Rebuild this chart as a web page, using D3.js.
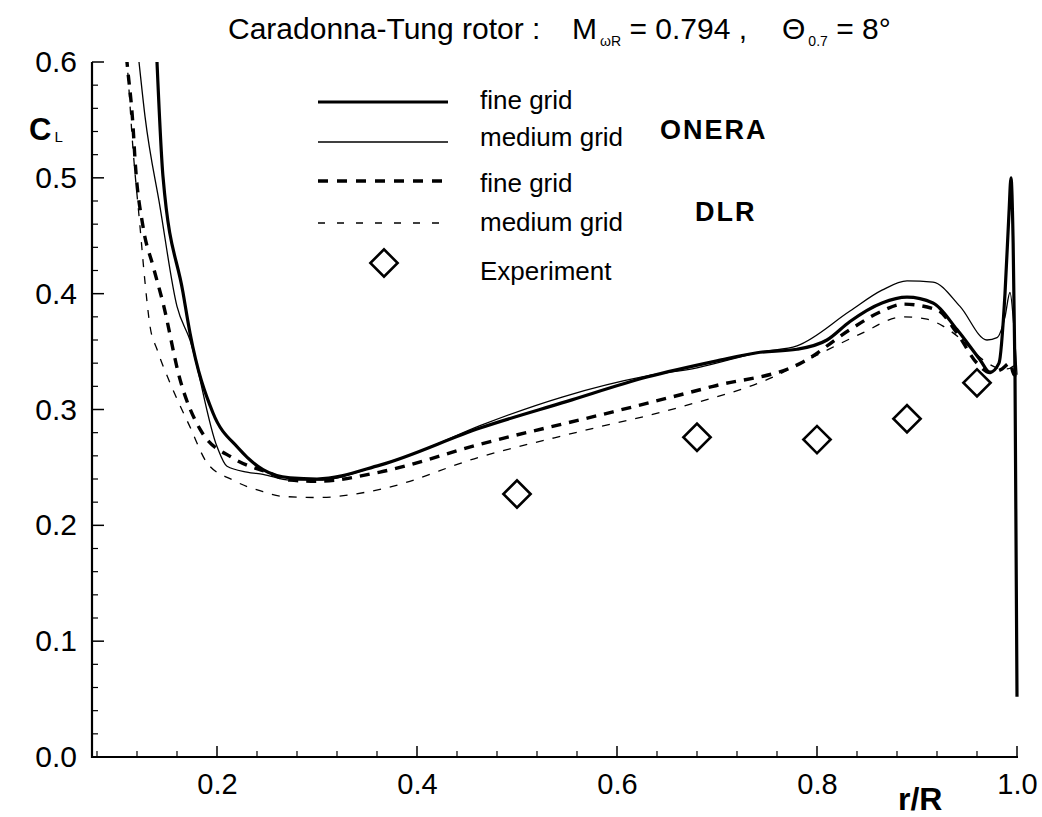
<!DOCTYPE html>
<html><head><meta charset="utf-8">
<script src="https://cdn.jsdelivr.net/npm/d3@7"></script>
<style>body{margin:0;background:#fff}svg{display:block}text{font-family:"Liberation Sans",Arial,sans-serif;fill:#000}</style>
</head><body><svg id="c" width="1042" height="817"></svg>
<script>
// ---- data ----
const xTicks = [0.2, 0.4, 0.6, 0.8, 1.0];
const xTickLabels = ["0.2", "0.4", "0.6", "0.8", "1.0"];
const yTicks = [0.0, 0.1, 0.2, 0.3, 0.4, 0.5, 0.6];
const yTickLabels = ["0.0", "0.1", "0.2", "0.3", "0.4", "0.5", "0.6"];

const rOneraFine  = [0.139,0.140,0.146,0.166,0.173,0.196,0.221,0.246,0.273,0.300,0.363,0.463,0.550,0.630,0.700,0.740,0.780,0.810,0.833,0.865,0.890,0.916,0.940,0.963,0.973,0.982,0.988,0.992,0.994,0.996,0.998,1.000];
const clOneraFine = [0.620,0.600,0.501,0.401,0.366,0.297,0.267,0.248,0.241,0.240,0.252,0.284,0.307,0.328,0.342,0.349,0.352,0.360,0.376,0.392,0.397,0.392,0.369,0.343,0.332,0.340,0.400,0.470,0.500,0.450,0.330,0.052];

const rOneraMed  = [0.1195,0.122,0.128,0.143,0.160,0.173,0.200,0.210,0.230,0.246,0.273,0.300,0.363,0.400,0.463,0.546,0.630,0.680,0.746,0.780,0.833,0.865,0.890,0.916,0.943,0.970,0.980,0.988,0.993,0.997,1.000];
const clOneraMed = [0.620,0.600,0.553,0.475,0.389,0.360,0.268,0.251,0.246,0.244,0.239,0.239,0.252,0.263,0.286,0.311,0.329,0.336,0.350,0.355,0.385,0.403,0.411,0.410,0.389,0.360,0.362,0.380,0.401,0.370,0.330];

const rDlrFine  = [0.108,0.110,0.116,0.118,0.126,0.136,0.146,0.163,0.183,0.216,0.250,0.273,0.300,0.363,0.463,0.596,0.696,0.786,0.833,0.865,0.886,0.920,0.940,0.960,0.973,0.985,0.993,0.997,1.000];
const clDlrFine = [0.620,0.600,0.545,0.516,0.458,0.424,0.392,0.326,0.283,0.258,0.246,0.239,0.238,0.246,0.270,0.298,0.320,0.341,0.369,0.385,0.391,0.386,0.366,0.340,0.332,0.335,0.340,0.330,0.330];

const rDlrMed  = [0.108,0.110,0.116,0.123,0.128,0.133,0.140,0.153,0.173,0.190,0.216,0.246,0.266,0.300,0.363,0.463,0.563,0.663,0.756,0.800,0.843,0.886,0.910,0.926,0.945,0.966,0.980,0.990,1.000];
const clDlrMed = [0.620,0.600,0.525,0.458,0.410,0.372,0.352,0.323,0.285,0.254,0.239,0.229,0.225,0.224,0.231,0.259,0.281,0.302,0.328,0.347,0.365,0.380,0.378,0.372,0.360,0.343,0.336,0.335,0.340];

const rExp  = [0.50, 0.68, 0.80, 0.89, 0.96];
const clExp = [0.227, 0.276, 0.274, 0.292, 0.323];

// ---- chart ----
const svg = d3.select("#c");
const x = d3.scaleLinear().domain([0.075, 1.0]).range([92, 1017]);
const y = d3.scaleLinear().domain([0, 0.6]).range([757, 62]);

svg.append("defs").append("clipPath").attr("id","clip")
  .append("rect").attr("x",92).attr("y",62).attr("width",940).attr("height",700);

const series = [
  {r: rOneraFine, c: clOneraFine, w: 3.2, dash: null},
  {r: rOneraMed,  c: clOneraMed,  w: 1.3, dash: null},
  {r: rDlrFine,   c: clDlrFine,   w: 3.4, dash: "10,8"},
  {r: rDlrMed,    c: clDlrMed,    w: 1.3, dash: "8,9"}
];
const line = d3.line().x(d => x(d[0])).y(d => y(d[1])).curve(d3.curveMonotoneX);
const g = svg.append("g").attr("clip-path","url(#clip)");
series.forEach(s => {
  g.append("path").datum(s.r.map((v,i) => [v, s.c[i]]))
    .attr("d", line).attr("fill","none").attr("stroke","#000")
    .attr("stroke-width", s.w).attr("stroke-dasharray", s.dash)
    .attr("stroke-linejoin","round");
});

const diamond = d3.symbol().type(d3.symbolSquare).size(370);
svg.append("g").selectAll("path").data(rExp.map((v,i)=>[v, clExp[i]])).join("path")
  .attr("d", diamond).attr("transform", d => `translate(${x(d[0])},${y(d[1])}) rotate(45)`)
  .attr("fill","#fff").attr("stroke","#000").attr("stroke-width",2.6);

// axes
const xAxis = d3.axisBottom(x).tickValues(xTicks).tickFormat((d,i)=>xTickLabels[i]).tickSize(0).tickPadding(16);
const xg = svg.append("g").attr("transform","translate(0,757)").call(xAxis);
xg.select(".domain").remove();
xg.selectAll("text").attr("font-size",29).attr("font-family","Liberation Sans, Arial, sans-serif").attr("fill","#000");
const yAxis = d3.axisLeft(y).tickValues(yTicks).tickFormat((d,i)=>yTickLabels[i]).tickSize(0).tickPadding(15);
const yg = svg.append("g").attr("transform","translate(92,0)").call(yAxis);
yg.select(".domain").remove();
yg.selectAll("text").attr("font-size",30).attr("font-family","Liberation Sans, Arial, sans-serif").attr("fill","#000");

// inward ticks
const xMinor = d3.range(0.08, 1.0001, 0.04).filter(v => Math.abs(v*5 - Math.round(v*5)) > 1e-6);
svg.append("g").selectAll("line").data(xMinor).join("line")
  .attr("x1", d=>x(d)).attr("x2", d=>x(d)).attr("y1",757).attr("y2",751).attr("stroke","#000").attr("stroke-width",1.2);
svg.append("g").selectAll("line").data(xTicks).join("line")
  .attr("x1", d=>x(d)).attr("x2", d=>x(d)).attr("y1",757).attr("y2",746).attr("stroke","#000").attr("stroke-width",1.5);
const yMinor = d3.range(0.02, 0.6, 0.02).filter(v => Math.abs(v*10 - Math.round(v*10)) > 1e-6);
svg.append("g").selectAll("line").data(yMinor).join("line")
  .attr("x1",92).attr("x2",98).attr("y1",d=>y(d)).attr("y2",d=>y(d)).attr("stroke","#000").attr("stroke-width",1.2);
svg.append("g").selectAll("line").data(yTicks).join("line")
  .attr("x1",92).attr("x2",104).attr("y1",d=>y(d)).attr("y2",d=>y(d)).attr("stroke","#000").attr("stroke-width",1.5);
svg.append("line").attr("x1",92).attr("x2",92).attr("y1",62).attr("y2",758).attr("stroke","#000").attr("stroke-width",2.2);
svg.append("line").attr("x1",91).attr("x2",1018).attr("y1",757).attr("y2",757).attr("stroke","#000").attr("stroke-width",2.2);

// title
const t = svg.append("text").attr("y",39).attr("font-size",30).style("white-space","pre");
t.append("tspan").attr("x",228).text("Caradonna-Tung rotor :");
t.append("tspan").attr("x",572).text("M");
t.append("tspan").attr("font-size",14).attr("dy",7).attr("dx",3).text("ωR");
t.append("tspan").attr("dy",-7).text(" = 0.794 ,");
t.append("tspan").attr("x",782).text("Θ");
t.append("tspan").attr("font-size",14).attr("dy",7).attr("dx",3).text("0.7");
t.append("tspan").attr("dy",-7).text(" = 8°");

// axis labels
const cl = svg.append("text").attr("x",29).attr("y",140).attr("font-size",31).attr("font-weight","bold");
cl.append("tspan").text("C");
cl.append("tspan").attr("font-size",15).attr("font-weight","normal").attr("dy",2).attr("dx",3).text("L");
svg.append("text").attr("x",898).attr("y",810).attr("font-size",32).attr("font-weight","bold").text("r/R");

// legend
const leg = [
  {y:102, w:3.2, dash:null, label:"fine grid", ty:109},
  {y:142, w:1.3, dash:null, label:"medium grid", ty:146},
  {y:181, w:3.4, dash:"10,9", label:"fine grid", ty:192},
  {y:223, w:1.3, dash:"7,12", label:"medium grid", ty:231}
];
leg.forEach(l => {
  svg.append("line").attr("x1",318).attr("x2",448).attr("y1",l.y).attr("y2",l.y)
    .attr("stroke","#000").attr("stroke-width",l.w).attr("stroke-dasharray",l.dash);
  svg.append("text").attr("x",480).attr("y",l.ty).attr("font-size",26).text(l.label);
});
svg.append("path").attr("d", diamond).attr("transform","translate(384,263) rotate(45)")
  .attr("fill","#fff").attr("stroke","#000").attr("stroke-width",2.6);
svg.append("text").attr("x",480).attr("y",280).attr("font-size",26).text("Experiment");
svg.append("text").attr("x",660).attr("y",139).attr("font-size",27).attr("font-weight","bold").attr("letter-spacing",2).text("ONERA");
svg.append("text").attr("x",695).attr("y",221).attr("font-size",27).attr("font-weight","bold").attr("letter-spacing",2).text("DLR");
</script></body></html>
